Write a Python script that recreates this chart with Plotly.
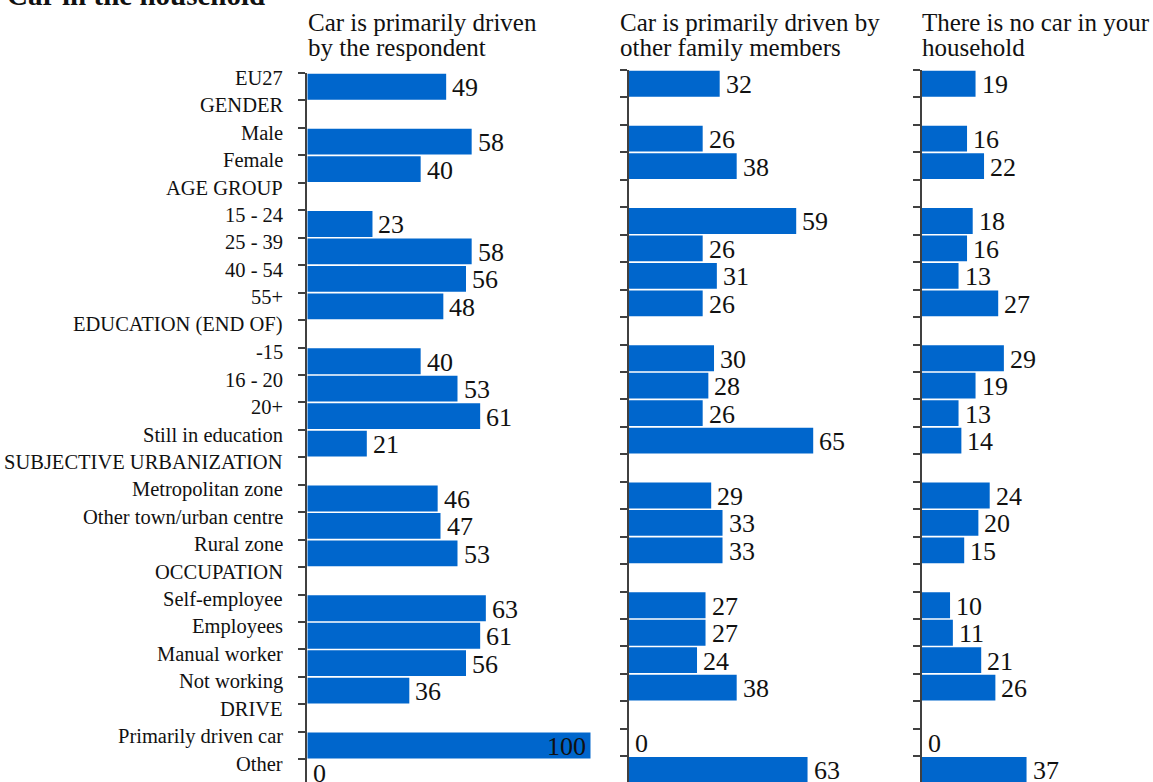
import plotly.graph_objects as go

# Survey breakdown: who drives the car in the household (%)
categories = [
    "EU27", "GENDER", "Male", "Female", "AGE GROUP", "15 - 24", "25 - 39",
    "40 - 54", "55+", "EDUCATION (END OF)", "-15", "16 - 20", "20+",
    "Still in education", "SUBJECTIVE URBANIZATION", "Metropolitan zone",
    "Other town/urban centre", "Rural zone", "OCCUPATION", "Self-employee",
    "Employees", "Manual worker", "Not working", "DRIVE",
    "Primarily driven car", "Other",
]

driven_by_respondent = [49, None, 58, 40, None, 23, 58, 56, 48, None, 40, 53, 61,
                        21, None, 46, 47, 53, None, 63, 61, 56, 36, None, 100, 0]
driven_by_family = [32, None, 26, 38, None, 59, 26, 31, 26, None, 30, 28, 26,
                    65, None, 29, 33, 33, None, 27, 27, 24, 38, None, 0, 63]
no_car = [19, None, 16, 22, None, 18, 16, 13, 27, None, 29, 19, 13,
          14, None, 24, 20, 15, None, 10, 11, 21, 26, None, 0, 37]

panel_titles = [
    ("Car is primarily driven", "by the respondent"),
    ("Car is primarily driven by", "other family members"),
    ("There is no car in your", "household"),
]
chart_title = "Car in the household"

W, H = 1153, 782
FONT = "Liberation Serif, Times New Roman, serif"
BAR = "#0066CC"
AXIS = "#404040"
ROW = 27.45  # pixel height of one category row

series = [driven_by_respondent, driven_by_family, no_car]
# (axis left px, axis right px, x max, plot top px, header left px)
panels = [
    (307.3, 590.7, 100, 73, 306),
    (629.0, 912.4, 100, 70, 618),
    (921.7, 1148.4, 80, 70, 920),
]

idx = list(range(len(categories)))
fig = go.Figure()
annotations = []

for p, (vals, (x0, x1, xmax, top, hx)) in enumerate(zip(series, panels)):
    n = "" if p == 0 else str(p + 1)
    fig.add_trace(go.Bar(
        x=vals, y=idx, orientation="h", marker=dict(color=BAR, line=dict(width=0)),
        xaxis="x" + n, yaxis="y" + n, showlegend=False, hoverinfo="x+y",
    ))
    bottom_val = (H - top) / ROW - 0.5
    fig.update_layout(**{
        "xaxis" + n: dict(domain=[x0 / W, x1 / W], range=[0, xmax], visible=False,
                          anchor="y" + n, fixedrange=True),
        "yaxis" + n: dict(domain=[0, 1 - top / H], range=[bottom_val, -0.5],
                          anchor="x" + n, showline=True, linecolor=AXIS, linewidth=2,
                          ticks="outside", ticklen=7, tickwidth=1.5, tickcolor=AXIS,
                          tickvals=[i - 0.5 for i in range(len(categories) + 1)],
                          showticklabels=False, showgrid=False, zeroline=False,
                          fixedrange=True),
    })
    # value labels
    for i, v in enumerate(vals):
        if v is None:
            continue
        inside = v >= xmax
        annotations.append(dict(
            x=v, y=i, xref="x" + n, yref="y" + n, text=str(v), showarrow=False,
            xanchor="right" if inside else "left", xshift=-3 if inside else 4,
            yshift=-1, font=dict(family=FONT, size=26, color="#111111"),
        ))
    # column headers
    for k, line in enumerate(panel_titles[p]):
        annotations.append(dict(
            x=hx / W, y=1 - (22.5 + 25 * k) / H, xref="paper", yref="paper", text=line,
            showarrow=False, xanchor="left", yanchor="middle",
            font=dict(family=FONT, size=25, color="#111111"),
        ))

# category labels on the left
for i, c in enumerate(categories):
    annotations.append(dict(
        x=285 / W, y=i, xref="paper", yref="y", text=c, showarrow=False,
        xanchor="right", yshift=9, font=dict(family=FONT, size=20.5, color="#111111"),
    ))

annotations.append(dict(
    x=5 / W, y=1 + 5 / H, xref="paper", yref="paper", text="<b>" + chart_title + "</b>",
    showarrow=False, xanchor="left", yanchor="middle",
    font=dict(family=FONT, size=29, color="#111111"),
))

fig.update_layout(
    width=W, height=H, margin=dict(l=0, r=0, t=0, b=0),
    paper_bgcolor="white", plot_bgcolor="white", bargap=0.06,
    annotations=annotations,
)

fig.write_html("out.html")
